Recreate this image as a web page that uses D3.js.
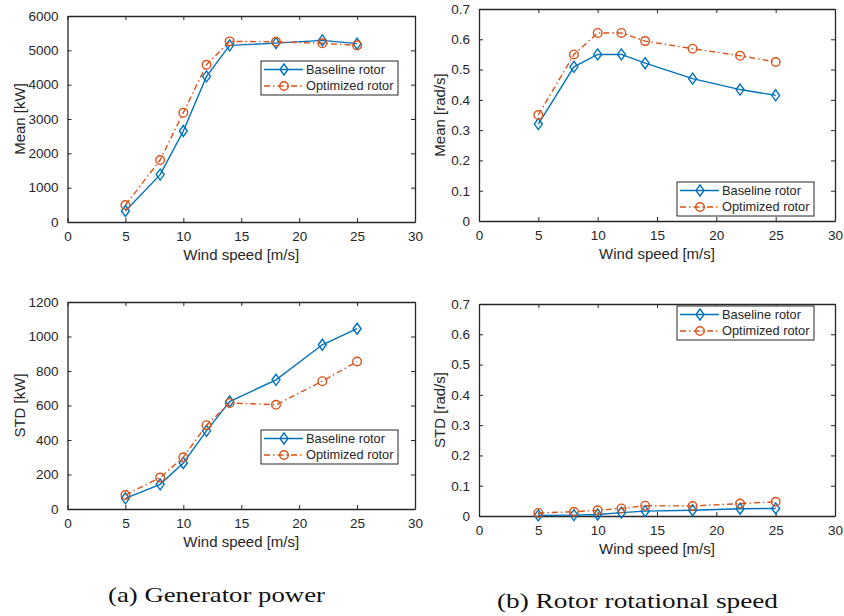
<!DOCTYPE html>
<html>
  <head>
    <meta charset="utf-8">
    <title>Rotor comparison</title>
<style>
body { margin: 0; background: #fff; }
text { font-family: "Liberation Sans", Arial, sans-serif; fill: #262626; }
.axis path, .axis line { stroke: #262626; }
.caption { font-family: "Liberation Serif", "DejaVu Serif", serif; fill: #111; }
</style>
    <script src="https://d3js.org/d3.v7.min.js"></script>
  </head>
  <body>
    <script type="text/javascript">

// wind speeds [m/s]
var windSpeed = [5, 8, 10, 12, 14, 18, 22, 25];
var xTicks = [0, 5, 10, 15, 20, 25, 30];

// generator power, mean [kW]
var powerMeanBaseline  = [320, 1380, 2650, 4240, 5145, 5210, 5290, 5195];
var powerMeanOptimized = [495, 1805, 3185, 4580, 5260, 5250, 5205, 5145];
// generator power, std [kW]
var powerStdBaseline  = [62, 143, 267, 453, 623, 749, 952, 1045];
var powerStdOptimized = [81, 182, 300, 486, 615, 604, 741, 855];
// rotor speed, mean [rad/s]
var speedMeanBaseline  = [0.320, 0.509, 0.550, 0.550, 0.521, 0.470, 0.434, 0.415];
var speedMeanOptimized = [0.350, 0.550, 0.621, 0.621, 0.594, 0.569, 0.546, 0.525];
// rotor speed, std [rad/s]
var speedStdBaseline  = [0.002, 0.003, 0.005, 0.011, 0.016, 0.019, 0.024, 0.025];
var speedStdOptimized = [0.010, 0.014, 0.019, 0.025, 0.034, 0.033, 0.041, 0.047];

var seriesNames = ["Baseline rotor", "Optimized rotor"];
var colors = ["#0072BD", "#D95319"];

var W = 844, H = 616;
var svg = d3.select("body").append("svg")
    .attr("width", W)
    .attr("height", H);

var panels = [
  {left: 67.5, right: 415, top: 16, bottom: 222, ymax: 6000, yticks: d3.range(0, 6001, 1000),
   fmt: d3.format("d"), ylabel: "Mean [kW]", ylabelX: 20,
   data: [powerMeanBaseline, powerMeanOptimized], legend: {x: 261, y: 61}},
  {left: 479, right: 835, top: 9, bottom: 221, ymax: 0.7, yticks: d3.range(0, 8).map(function(d) { return d / 10; }),
   fmt: function(d) { return d === 0 ? "0" : d3.format(".1f")(d); }, ylabel: "Mean [rad/s]", ylabelX: 440,
   data: [speedMeanBaseline, speedMeanOptimized], legend: {x: 677, y: 182}},
  {left: 67.5, right: 415, top: 302, bottom: 509, ymax: 1200, yticks: d3.range(0, 1201, 200),
   fmt: d3.format("d"), ylabel: "STD [kW]", ylabelX: 20,
   data: [powerStdBaseline, powerStdOptimized], legend: {x: 261, y: 430}},
  {left: 479, right: 835, top: 304, bottom: 516, ymax: 0.7, yticks: d3.range(0, 8).map(function(d) { return d / 10; }),
   fmt: function(d) { return d === 0 ? "0" : d3.format(".1f")(d); }, ylabel: "STD [rad/s]", ylabelX: 440,
   data: [speedStdBaseline, speedStdOptimized], legend: {x: 677, y: 306}}
];

function drawMarker(g, i, cx, cy) {
  if (i === 0) {
    g.append("path")
      .attr("d", "M" + cx + "," + (cy - 5.5) + "L" + (cx + 4) + "," + cy +
                 "L" + cx + "," + (cy + 5.5) + "L" + (cx - 4) + "," + cy + "Z")
      .attr("fill", "none")
      .attr("stroke", colors[i])
      .attr("stroke-width", 1.4);
  } else {
    g.append("circle")
      .attr("cx", cx).attr("cy", cy).attr("r", 4.3)
      .attr("fill", "none")
      .attr("stroke", colors[i])
      .attr("stroke-width", 1.4);
  }
}

panels.forEach(function(p) {
  var x = d3.scaleLinear().domain([0, 30]).range([p.left, p.right]);
  var y = d3.scaleLinear().domain([0, p.ymax]).range([p.bottom, p.top]);
  var g = svg.append("g");

  // axes, ticks pointing inward on all four sides
  g.append("g").attr("class", "axis")
    .attr("transform", "translate(0," + p.bottom + ")")
    .call(d3.axisBottom(x).tickValues(xTicks).tickSize(-4).tickPadding(9).tickSizeOuter(0))
    .call(function(a) { a.selectAll("text").attr("font-size", 13.5).attr("font-family", null).attr("fill", "#262626"); });
  g.append("g").attr("class", "axis")
    .attr("transform", "translate(0," + p.top + ")")
    .call(d3.axisTop(x).tickValues(xTicks).tickSize(-4).tickFormat("").tickSizeOuter(0));
  g.append("g").attr("class", "axis")
    .attr("transform", "translate(" + p.left + ",0)")
    .call(d3.axisLeft(y).tickValues(p.yticks).tickFormat(p.fmt).tickSize(-4).tickPadding(9).tickSizeOuter(0))
    .call(function(a) { a.selectAll("text").attr("font-size", 13.5).attr("font-family", null).attr("fill", "#262626"); });
  g.append("g").attr("class", "axis")
    .attr("transform", "translate(" + p.right + ",0)")
    .call(d3.axisRight(y).tickValues(p.yticks).tickSize(-4).tickFormat("").tickSizeOuter(0));
  g.selectAll(".axis path").attr("stroke-width", 1.3);

  // axis labels
  g.append("text")
    .attr("x", (p.left + p.right) / 2)
    .attr("y", p.bottom + 38)
    .attr("text-anchor", "middle")
    .attr("font-size", 15)
    .text("Wind speed [m/s]");
  g.append("text")
    .attr("transform", "translate(" + p.ylabelX + "," + ((p.top + p.bottom) / 2) + ") rotate(-90)")
    .attr("text-anchor", "middle")
    .attr("dy", "0.35em")
    .attr("font-size", 15)
    .text(p.ylabel);

  // series
  var line = d3.line()
    .x(function(d, i) { return x(windSpeed[i]); })
    .y(function(d) { return y(d); });

  p.data.forEach(function(vals, si) {
    g.append("path")
      .datum(vals)
      .attr("d", line)
      .attr("fill", "none")
      .attr("stroke", colors[si])
      .attr("stroke-width", 1.4)
      .attr("stroke-dasharray", si === 1 ? "6,3,1.5,3" : null);
    vals.forEach(function(v, i) { drawMarker(g, si, x(windSpeed[i]), y(v)); });
  });

  // legend
  var lg = g.append("g").attr("transform", "translate(" + p.legend.x + "," + p.legend.y + ")");
  lg.append("rect")
    .attr("width", 137).attr("height", 34)
    .attr("fill", "#fff")
    .attr("stroke", "#262626")
    .attr("stroke-width", 1);
  seriesNames.forEach(function(name, si) {
    var ry = 8.5 + si * 16.5;
    lg.append("line")
      .attr("x1", 3).attr("x2", 42).attr("y1", ry).attr("y2", ry)
      .attr("stroke", colors[si])
      .attr("stroke-width", 1.4)
      .attr("stroke-dasharray", si === 1 ? "6,3,1.5,3" : null);
    drawMarker(lg, si, 23, ry);
    lg.append("text")
      .attr("x", 45).attr("y", ry)
      .attr("dy", "0.35em")
      .attr("font-size", 12.8)
      .text(name);
  });
});

// sub-figure captions
svg.append("text").attr("class", "caption")
  .attr("x", 108).attr("y", 602)
  .attr("font-size", 22)
  .attr("textLength", 217).attr("lengthAdjust", "spacingAndGlyphs")
  .text("(a) Generator power");
svg.append("text").attr("class", "caption")
  .attr("x", 497).attr("y", 608)
  .attr("font-size", 22)
  .attr("textLength", 281).attr("lengthAdjust", "spacingAndGlyphs")
  .text("(b) Rotor rotational speed");

    </script>
  </body>
</html>
